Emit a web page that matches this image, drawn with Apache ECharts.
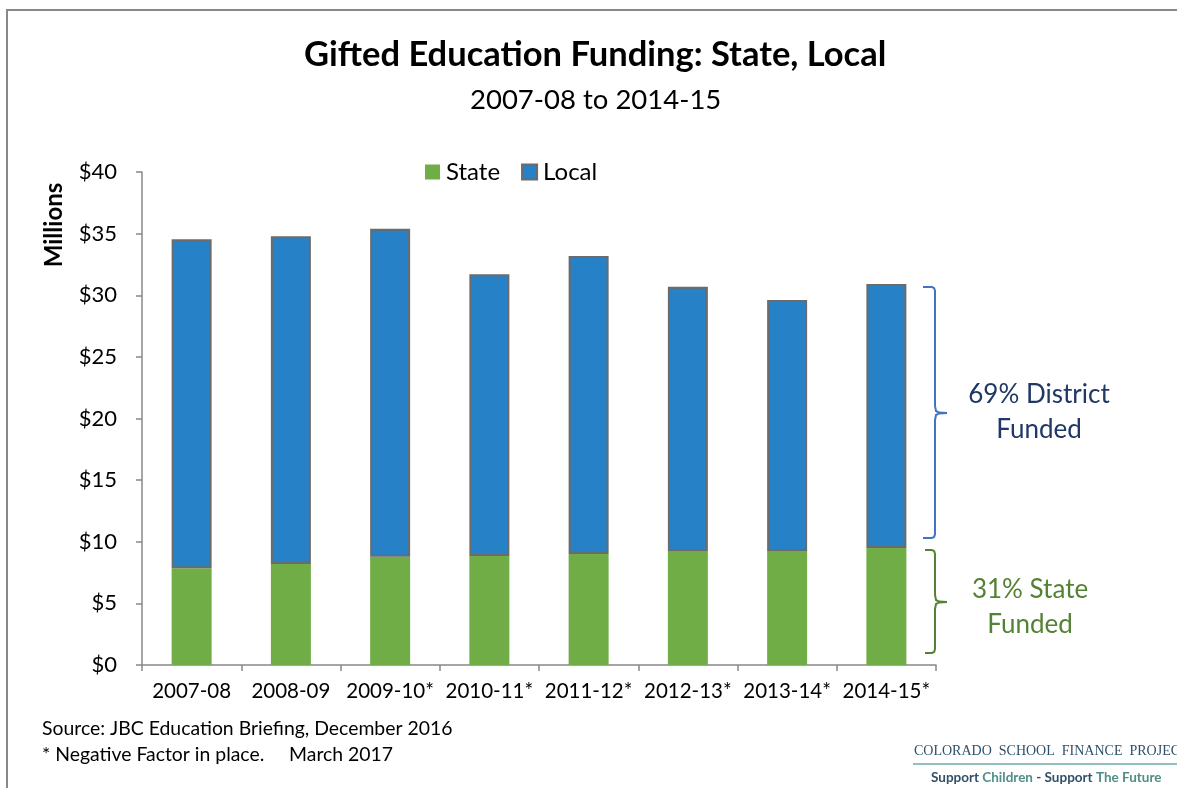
<!DOCTYPE html>
<html><head><meta charset="utf-8">
<script src="https://cdn.jsdelivr.net/npm/echarts@6/dist/echarts.min.js"></script>
<style>html,body{margin:0;padding:0;background:#fff}#c{width:1177px;height:788px}</style>
</head><body><div id="c"></div>
<script>
const categories = ['2007-08','2008-09','2009-10*','2010-11*','2011-12*','2012-13*','2013-14*','2014-15*'];
const stateValues = [7.84, 8.19, 8.79, 8.84, 9.01, 9.25, 9.25, 9.49];
const localValues = [26.70, 26.59, 26.61, 22.86, 24.17, 21.44, 20.36, 21.42];
const yTicks = [0, 5, 10, 15, 20, 25, 30, 35, 40];

const FONT = 'Lato, "Open Sans", sans-serif';

function bracket(x0, xv, xt, y0, ym, y1) {
  const r = 7;
  return [[x0, y0], [xv - 3, y0], [xv - 0.8, y0 + 1.2], [xv, y0 + 4], [xv, ym - r],
          [xv + 1, ym - 2], [xv + 4, ym - 0.4], [xt, ym], [xv + 4, ym + 0.4], [xv + 1, ym + 2],
          [xv, ym + r], [xv, y1 - 4], [xv - 0.8, y1 - 1.2], [xv - 3, y1], [x0, y1]];
}

const chart = echarts.init(document.getElementById('c'));
chart.setOption({
  animation: false,
  backgroundColor: '#fff',
  textStyle: { fontFamily: FONT },
  title: [
    { text: 'Gifted Education Funding: State, Local', left: 299, top: 32,
      textStyle: { fontSize: 34.5, fontWeight: 'bold', color: '#000', fontFamily: FONT } },
    { text: '2007-08 to 2014-15', left: 465, top: 81,
      textStyle: { fontSize: 27.5, fontWeight: 'normal', color: '#000', fontFamily: FONT } }
  ],
  legend: {
    top: 155, left: 420, itemWidth: 15, itemHeight: 15, itemGap: 21,
    icon: 'rect',
    textStyle: { fontSize: 24, color: '#000', fontFamily: FONT, padding: [0, 0, 0, 1] },
    data: ['State', 'Local']
  },
  grid: { left: 142, right: 241, top: 172, bottom: 123, containLabel: false },
  xAxis: {
    type: 'category', data: categories,
    axisLine: { lineStyle: { color: '#888', width: 1.5 } },
    axisTick: { show: true, length: 6, lineStyle: { color: '#888', width: 1.5 } },
    axisLabel: { fontSize: 20.5, color: '#000', margin: 16, interval: 0, fontFamily: FONT }
  },
  yAxis: {
    type: 'value', min: 0, max: 40, interval: 5,
    axisLine: { show: true, lineStyle: { color: '#888', width: 1.5 } },
    axisTick: { show: true, length: 6, lineStyle: { color: '#888', width: 1.5 } },
    splitLine: { show: false },
    axisLabel: { fontSize: 22, color: '#000', margin: 25, fontFamily: FONT,
      formatter: v => yTicks.includes(v) ? '$' + v : '' }
  },
  series: [
    { name: 'State', type: 'bar', stack: 'total', data: stateValues, barWidth: 40,
      itemStyle: { color: '#70AD47' } },
    { name: 'Local', type: 'bar', stack: 'total', data: localValues, barWidth: 40,
      itemStyle: { color: '#2681C6', borderColor: '#6b6b6b', borderWidth: 2 } }
  ],
  graphic: [
    { type: 'polyline', shape: { points: [[7, 788], [7, 10], [1177, 10]] },
      style: { stroke: '#888', lineWidth: 2, fill: null } },
    { type: 'text', x: 54, y: 225, rotation: Math.PI / 2,
      style: { text: 'Millions', font: 'bold 24px ' + FONT, fill: '#000', textAlign: 'center', textVerticalAlign: 'middle' } },
    { type: 'polyline', shape: { points: bracket(923, 935, 947, 287, 413, 538) },
      style: { stroke: '#4472C4', lineWidth: 2, fill: null } },
    { type: 'polyline', shape: { points: bracket(925, 935, 947, 550, 602, 653) },
      style: { stroke: '#548235', lineWidth: 2, fill: null } },
    { type: 'text', x: 1039, y: 377,
      style: { text: '69% District\nFunded', lineHeight: 35, fill: '#203864', textAlign: 'center', font: '26px ' + FONT } },
    { type: 'text', x: 1030, y: 572,
      style: { text: '31% State\nFunded', lineHeight: 35, fill: '#548235', textAlign: 'center', font: '26px ' + FONT } },
    { type: 'text', x: 42, y: 719,
      style: { text: 'Source: JBC Education Briefing, December 2016', font: '19.4px ' + FONT, fill: '#000' } },
    { type: 'text', x: 42, y: 745,
      style: { text: '* Negative Factor in place.     March 2017', font: '19.4px ' + FONT, fill: '#000' } },
    { type: 'text', x: 914, y: 744,
      style: { text: 'COLORADO  SCHOOL  FINANCE  PROJEC', font: '14px "Liberation Serif", serif', fill: '#2F5068' } },
    { type: 'line', shape: { x1: 913, y1: 764, x2: 1177, y2: 764 }, style: { stroke: '#6FA8A8', lineWidth: 1.5 } },
    { type: 'text', x: 931, y: 771,
      style: {
        text: '{a|Support }{b|Children}{a| - Support }{b|The Future}',
        rich: {
          a: { font: 'bold 13.5px ' + FONT, fill: '#2F5068' },
          b: { font: 'bold 13.5px ' + FONT, fill: '#4E8F86' }
        }
      } }
  ]
});
</script></body></html>
